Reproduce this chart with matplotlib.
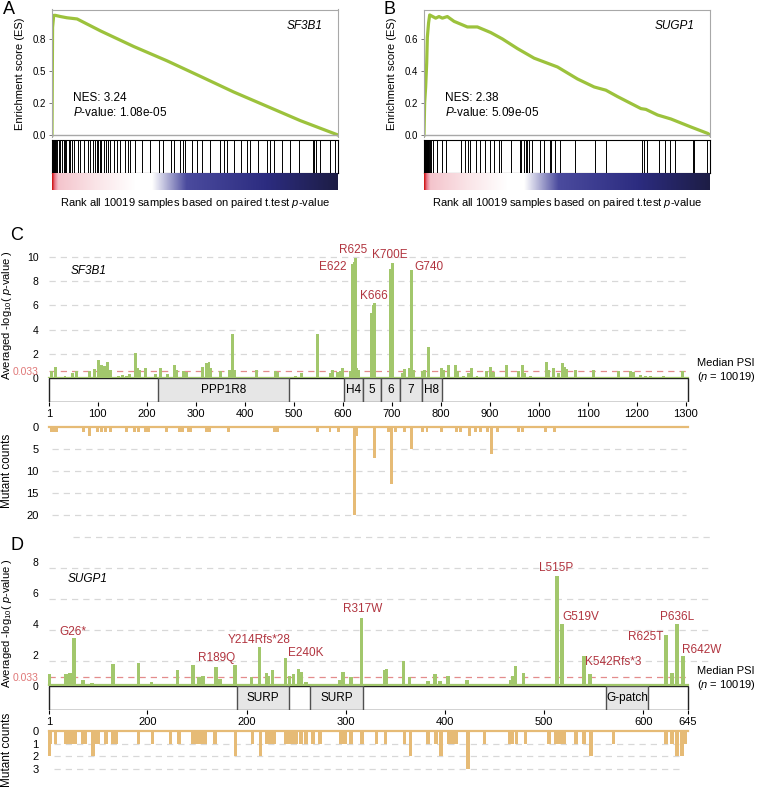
import numpy as np
import matplotlib
matplotlib.use('Agg')
import matplotlib.pyplot as plt
from matplotlib.colors import LinearSegmentedColormap
from matplotlib.patches import Rectangle

plt.rcParams['font.family'] = ['Liberation Sans', 'DejaVu Sans']
plt.rcParams['mathtext.fontset'] = 'custom'
plt.rcParams['mathtext.rm'] = 'Liberation Sans'
plt.rcParams['mathtext.it'] = 'Liberation Sans:italic'

# ---------------- data ----------------
N_SAMPLES = 10019

# GSEA running enrichment score, SF3B1 (A) and SUGP1 (B)
es_a_rank = [0, 20, 60, 117, 300, 520, 880, 1700, 2860, 4030, 5200, 6360, 7530, 8700, 10019]
es_a = [0, 0.90, 1.0, 1.0, 0.99, 0.98, 0.97, 0.87, 0.74, 0.62, 0.49, 0.36, 0.24, 0.12, 0.0]
es_b_rank = [0, 23, 58, 94, 117, 160, 199, 409, 526, 643, 818, 1052, 1520, 1870, 2338, 2747,
             3273, 3858, 4676, 5377, 5962, 6371, 6780, 7599, 7774, 8183, 8651, 9352, 9937, 10019]
es_b = [0, 0.2, 0.3, 0.45, 0.61, 0.7, 0.75, 0.73, 0.74, 0.73, 0.74, 0.71, 0.675, 0.675, 0.64, 0.60,
        0.54, 0.48, 0.425, 0.35, 0.30, 0.28, 0.24, 0.165, 0.16, 0.125, 0.10, 0.05, 0.01, 0.0]

hits_a = [0, 10, 23, 35, 47, 58, 70, 82, 93, 105, 117, 152, 175, 234, 292, 350, 409, 444, 490,
          584, 642, 701, 759, 899, 993, 1109, 1249, 1320, 1425, 1518, 1576, 1611, 1670, 1728,
          1810, 1903, 1950, 2043, 2160, 2277, 2394, 2569, 2662, 2744, 2919, 3153, 3445, 3737,
          3888, 4180, 4262, 4496, 4589, 4671, 4904, 5079, 5255, 5523, 5897, 6014, 6130, 6364,
          6621, 6831, 6948, 7205, 7532, 7625, 7789, 8057, 8326, 8641, 9143, 9190, 9260, 9400,
          9750, 9925]
hits_b = [0, 12, 23, 35, 46, 58, 70, 82, 94, 105, 117, 129, 141, 152, 164, 210, 257, 327, 468,
          643, 760, 1309, 1426, 1543, 1613, 1812, 1964, 2128, 2303, 2455, 2630, 2712, 3063,
          3367, 3414, 3507, 3566, 3624, 3683, 3776, 4068, 4208, 4407, 4466, 4583, 4770, 5284,
          5985, 6383, 7634, 7716, 7809, 8218, 8440, 8627, 8803, 9411, 9469, 9913]

# SF3B1 (C): averaged -log10(p) per residue
sf3b1_pos = [6, 13, 33, 48, 57, 84, 94, 101, 108, 113,
             120, 125, 142, 150, 158, 165, 176, 181, 186, 198,
             217, 228, 243, 256, 261, 275, 281, 314, 321, 327,
             330, 350, 369, 375, 379, 424, 462, 467, 503, 516,
             548, 575, 580, 590, 595, 599, 615, 620, 623, 626,
             629, 633, 659, 662, 665, 698, 701, 721, 726, 737,
             740, 744, 762, 767, 775, 801, 806, 815, 830, 835,
             847, 857, 862, 874, 894, 901, 907, 935, 959, 966,
             971, 983, 1016, 1020, 1030, 1041, 1048, 1052, 1056, 1075,
             1112, 1163, 1188, 1194, 1208, 1218, 1228, 1255, 1294]
sf3b1_logp = [0.55, 0.9, 0.2, 0.4, 0.6, 0.6, 0.75, 1.5, 1.1, 1.0,
              1.3, 0.7, 0.2, 0.25, 0.2, 0.3, 2.1, 0.8, 0.7, 0.8,
              0.3, 0.8, 0.3, 1.05, 0.7, 0.55, 0.5, 0.95, 1.25, 1.3,
              0.8, 0.55, 0.7, 3.6, 0.7, 0.7, 0.6, 0.5, 0.2, 0.4,
              3.6, 0.4, 0.7, 0.5, 0.6, 0.8, 0.6, 9.4, 9.6, 9.95,
              0.8, 0.7, 5.4, 6.0, 6.2, 9.0, 9.5, 0.4, 0.75, 0.8,
              8.9, 0.7, 0.6, 0.7, 2.6, 0.8, 0.7, 1.05, 1.05, 0.55,
              0.2, 0.4, 0.8, 0.2, 0.6, 0.95, 0.5, 1.05, 0.6, 1.1,
              0.4, 0.2, 1.3, 0.7, 0.8, 0.4, 1.25, 0.95, 0.75, 0.7,
              0.7, 0.55, 0.55, 0.5, 0.25, 0.2, 0.2, 0.15, 0.55]
sf3b1_mut_pos = [6, 11, 16, 70, 84, 99, 107, 115, 125, 159,
                 175, 183, 197, 203, 241, 266, 273, 285, 290, 321,
                 325, 329, 367, 460, 467, 548, 574, 591, 624, 629,
                 665, 694, 699, 707, 727, 740, 762, 772, 801, 832,
                 840, 859, 871, 881, 896, 903, 915, 959, 966, 1013, 1032]
sf3b1_mut = [1, 1, 1, 1, 2, 1, 1, 1, 1, 1,
             1, 1, 1, 1, 1, 1, 1, 1, 1, 1,
             1, 1, 1, 1, 1, 1, 1, 1, 20, 2,
             7, 1, 13, 1, 1, 5, 1, 1, 1, 1,
             1, 2, 1, 1, 1, 6, 1, 1, 1, 1, 1]
sf3b1_domains = [('PPP1R8', 223, 490), ('H4', 603, 641), ('5', 641, 679),
                 ('6', 679, 717), ('7', 717, 761), ('H8', 761, 803)]
sf3b1_labels = [('E622', 608, 9.15, 'right'), ('R625', 621, 10.6, 'center'),
                ('K666', 663, 6.75, 'center'), ('K700E', 697, 10.15, 'center'),
                ('G740', 747, 9.2, 'left')]

# SUGP1 (D)
sugp1_pos = [1, 18, 22, 24, 26, 35, 44, 49, 65, 91,
             104, 123, 130, 146, 152, 156, 169, 173, 188, 205,
             213, 220, 222, 226, 239, 243, 247, 252, 255, 260,
             276, 294, 297, 305, 316, 331, 339, 341, 358, 364,
             383, 390, 395, 403, 408, 422, 466, 468, 471, 479,
             513, 518, 532, 540, 546, 570, 623, 629, 634, 640]
sugp1_logp = [0.8, 0.75, 0.85, 0.8, 3.1, 0.4, 0.2, 0.1, 1.4, 1.45,
              0.25, 0.15, 1.05, 1.35, 0.55, 0.65, 1.25, 0.45, 1.35, 0.55,
              2.5, 0.85, 0.65, 1.05, 1.8, 0.65, 0.75, 1.1, 0.9, 0.25,
              0.1, 0.4, 0.9, 0.6, 4.4, 0.15, 1.05, 1.1, 1.6, 0.55,
              0.3, 0.75, 0.3, 0.65, 0.15, 0.4, 0.4, 0.65, 1.3, 0.85,
              7.1, 4.0, 0.15, 1.9, 0.75, 0.1, 3.3, 0.85, 4.0, 1.9]
sugp1_mut_pos = [1, 2, 7, 18, 21, 24, 27, 35, 37, 45,
                 47, 50, 58, 65, 67, 69, 91, 105, 123, 132,
                 146, 149, 152, 155, 158, 168, 189, 206, 214, 220,
                 223, 226, 228, 239, 242, 245, 248, 250, 255, 260,
                 267, 274, 295, 299, 305, 316, 317, 331, 340, 359,
                 365, 383, 391, 396, 404, 407, 411, 423, 440, 465,
                 468, 472, 481, 505, 512, 515, 518, 520, 532, 540,
                 547, 570, 623, 629, 634, 639, 642]
sugp1_mut = [2, 1, 1, 1, 1, 1, 1, 1, 1, 2,
             1, 1, 1, 1, 1, 1, 1, 1, 1, 1,
             1, 1, 1, 1, 1, 1, 2, 1, 2, 1,
             1, 1, 1, 1, 1, 1, 1, 1, 1, 1,
             1, 1, 1, 1, 1, 1, 1, 1, 1, 1,
             2, 1, 1, 2, 1, 1, 1, 3, 1, 1,
             1, 1, 1, 1, 1, 1, 1, 1, 1, 1,
             2, 1, 1, 1, 2, 2, 1]
sugp1_domains = [('SURP', 190, 243), ('SURP', 264, 317), ('G-patch', 562, 605)]
sugp1_labels = [('G26*', 25, 3.45, 'center'), ('R189Q', 170, 1.78, 'center'),
                ('Y214Rfs*28', 213, 2.96, 'center'), ('E240K', 260, 2.1, 'center'),
                ('R317W', 317, 4.94, 'center'), ('L515P', 512, 7.57, 'center'),
                ('G519V', 537, 4.42, 'center'), ('K542Rfs*3', 570, 1.52, 'center'),
                ('R625T', 602, 3.13, 'center'), ('P636L', 634, 4.42, 'center'),
                ('R642W', 659, 2.32, 'center')]

THRESH = 0.58
CURVE = '#9cc23c'
GREEN = '#a2c76c'
ORANGE = '#e6bb76'
RED = '#b1343f'
GRID = '#d8d8d8'

W, H = 757, 787
fig = plt.figure(figsize=(W / 100, H / 100), dpi=100)


def px_axes(x0, y0, x1, y1):
    return fig.add_axes([x0 / W, 1 - y1 / H, (x1 - x0) / W, (y1 - y0) / H])


rank_cmap = LinearSegmentedColormap.from_list('rank', [
    (0, '#d01c1c'), (0.008, '#e8788a'), (0.02, '#f4c4cc'), (0.15, '#fae4e7'),
    (0.29, '#ffffff'), (0.35, '#ffffff'), (0.47, '#4b4b9e'), (0.75, '#2c2c80'),
    (1, '#1d1d45')])


def gsea_panel(x0, x1, rank, es, hits, ylim, yticks, yticklabels, gene, nes, pval, letter):
    ax = px_axes(x0, 9.5, x1, 137)
    ax.plot(rank, es, color=CURVE, lw=2.3, solid_joinstyle='round')
    ax.axhline(0, color='#a8a8a8', lw=1)
    ax.set_xlim(0, N_SAMPLES)
    ax.set_ylim(*ylim)
    for s in ['top', 'right', 'left']:
        ax.spines[s].set_color('#a8a8a8')
    ax.spines['bottom'].set_visible(False)
    ax.set_xticks([])
    ax.set_yticks(yticks, yticklabels)
    ax.tick_params(axis='y', labelsize=7, length=2.5, width=0.6, pad=2, color='#666666')
    ax.set_ylabel('Enrichment score (ES)', fontsize=8, labelpad=5)
    ax.text(0.945, 0.87, gene, transform=ax.transAxes, style='italic', ha='right',
            va='center', fontsize=8.5)
    ax.text(0.073, 0.306, 'NES: ' + nes, transform=ax.transAxes, va='center', fontsize=8.5)
    ax.text(0.073, 0.19, '$P$-value: ' + pval, transform=ax.transAxes, va='center',
            fontsize=8.5)

    hx = px_axes(x0, 140, x1, 173)
    hx.vlines(hits, 0, 1, color='black', lw=0.7)
    hx.set_xlim(0, N_SAMPLES)
    hx.set_ylim(0, 1)
    hx.set_xticks([])
    hx.set_yticks([])
    for s in hx.spines.values():
        s.set_linewidth(0.8)

    cx = px_axes(x0, 173, x1, 190)
    cx.imshow(np.linspace(0, 1, 512)[None, :], aspect='auto', cmap=rank_cmap,
              extent=(0, N_SAMPLES, 0, 1))
    cx.axis('off')

    fig.text((x0 + x1) / 2 / W, 1 - 203 / H,
             'Rank all 10019 samples based on paired t.test $p$-value',
             ha='center', va='center', fontsize=8)
    fig.text(letter[1] / W, 1 - 10 / H, letter[0], ha='left', va='center', fontsize=13)


def protein_panel(length, px_aa, top, base, px_unit, mtop, mbase, px_count, mbottom,
                  pos, logp, bar_w, mpos, mut, mut_w, domains, labels, yticks, grid,
                  grid_start, grid_end, xticks, xticklabels, mticks, mgrid, gene,
                  gene_xy, letter_y, ylab_y, mlab_y):
    xl = (1 - (49.3 - 47) / px_aa, 1 + (690 - 49.3) / px_aa)

    # green -log10(p) track
    ax = px_axes(47, top, 690, base)
    ax.set_xlim(*xl)
    ax.set_ylim(0, (base - top) / px_unit)
    for g in grid:
        ax.plot([grid_start.get(g, 1), grid_end], [g, g], color=GRID, lw=0.9,
                dashes=(5, 4), clip_on=False, zorder=0)
    ax.plot([1, min(grid_end, length)], [THRESH, THRESH],
            color='#e38c8c', lw=0.9, dashes=(5, 4), zorder=1)
    ax.bar(pos, logp, width=bar_w, color=GREEN, linewidth=0, zorder=2)
    ax.plot([1, length], [0.04, 0.04], color=GREEN, lw=1.6, zorder=2)
    for s in ax.spines.values():
        s.set_visible(False)
    ax.set_xticks([])
    ax.set_yticks([0, THRESH] + yticks, ['0', '0.033'] + [str(t) for t in yticks])
    ax.tick_params(axis='y', length=0, pad=6, labelsize=7.5)
    ax.get_yticklabels()[1].set_color('#e07878')
    for txt, x, y, ha in labels:
        ax.text(x, y, txt, color=RED, fontsize=8.5, ha=ha, va='center', clip_on=False)
    ax.text(gene_xy[0], gene_xy[1], gene, style='italic', fontsize=8.5, va='center')
    x_psi = 1 + (697 - 49.3) / px_aa
    ax.text(x_psi, 15 / px_unit, 'Median PSI', fontsize=8, va='center', clip_on=False)
    ax.text(x_psi, 1 / px_unit, '($n$ = 10019)', fontsize=8, va='center', clip_on=False)

    # domain bar
    dx = px_axes(47, base, 690, base + 24)
    dx.set_xlim(*xl)
    dx.set_ylim(0, 1)
    dx.add_patch(Rectangle((1, 0.02), length - 1, 0.96, facecolor='white',
                           edgecolor='#222222', lw=1))
    for name, a, b in domains:
        dx.add_patch(Rectangle((a, 0.02), b - a, 0.96, facecolor='#e6e6e6',
                               edgecolor='#505050', lw=1))
        dx.text((a + b) / 2, 0.5, name, ha='center', va='center', fontsize=8.5)
    for s in dx.spines.values():
        s.set_visible(False)
    dx.set_yticks([])
    dx.set_xticks(xticks, xticklabels)
    dx.tick_params(axis='x', length=3, width=0.8, pad=2, labelsize=8)

    # mutant counts track
    mx = px_axes(47, mtop, 690, mbottom)
    mx.set_xlim(*xl)
    mx.set_ylim((mbottom - mbase) / px_count, -(mbase - mtop) / px_count)
    for g in mgrid:
        mx.plot([6, length - 4], [g, g], color=GRID, lw=0.9, dashes=(5, 4), zorder=0)
    mx.bar(mpos, mut, width=mut_w, color=ORANGE, linewidth=0, zorder=2)
    mx.plot([1, length], [0, 0], color=ORANGE, lw=1.6, zorder=2)
    for s in mx.spines.values():
        s.set_visible(False)
    mx.set_xticks([])
    mx.set_yticks(mticks)
    mx.tick_params(axis='y', length=0, pad=6, labelsize=8)

    fig.text(10 / W, 1 - letter_y[1] / H, letter_y[0], ha='left', va='center', fontsize=13)
    fig.text(7 / W, 1 - ylab_y / H, 'Averaged -log$_{10}$( $p$-value )', rotation=90,
             ha='center', va='center', fontsize=8)
    fig.text(7 / W, 1 - mlab_y / H, 'Mutant counts', rotation=90,
             ha='center', va='center', fontsize=8.5)


gsea_panel(52, 338, es_a_rank, es_a, hits_a, (-0.0167, 1.049), [0, 0.267, 0.533, 0.8],
           ['0.0', '0.2', '0.5', '0.8'], 'SF3B1', '3.24', '1.08e-05', ('A', 3))
gsea_panel(424, 710, es_b_rank, es_b, hits_b, (-0.0125, 0.784), [0, 0.2, 0.4, 0.6],
           ['0.0', '0.2', '0.4', '0.6'], 'SUGP1', '2.38', '5.09e-05', ('B', 383))

protein_panel(1304, 0.4899, 245, 378, 12.1, 424, 427.3, 4.385, 520,
              sf3b1_pos, sf3b1_logp, 6, sf3b1_mut_pos, sf3b1_mut, 6,
              sf3b1_domains, sf3b1_labels, [2, 4, 6, 8, 10], [2, 4, 6, 8, 10], {},
              1304, [1] + list(range(100, 1301, 100)),
              ['1'] + [str(v) for v in range(100, 1301, 100)],
              [0, 5, 10, 15, 20], [5, 10, 15, 20], 'SF3B1', (44, 8.85),
              ('C', 235), 315, 471)

protein_panel(645, 0.9918, 533, 686, 15.54, 728, 731, 12.67, 775,
              sugp1_pos, sugp1_logp, 3.5, sugp1_mut_pos, sugp1_mut, 3.5,
              sugp1_domains, sugp1_labels, [2, 4, 6, 8], [1.6, 3.6, 5.6, 7.6, 9.6],
              {9.6: 25}, 669, [1, 100, 200, 300, 400, 500, 600, 645],
              ['1', '200', '200', '300', '400', '500', '600', '645'],
              [0, 1, 2, 3], [1, 2, 3], 'SUGP1', (20, 6.9),
              ('D', 545), 623, 750)

fig.savefig('out.png', dpi=100)
